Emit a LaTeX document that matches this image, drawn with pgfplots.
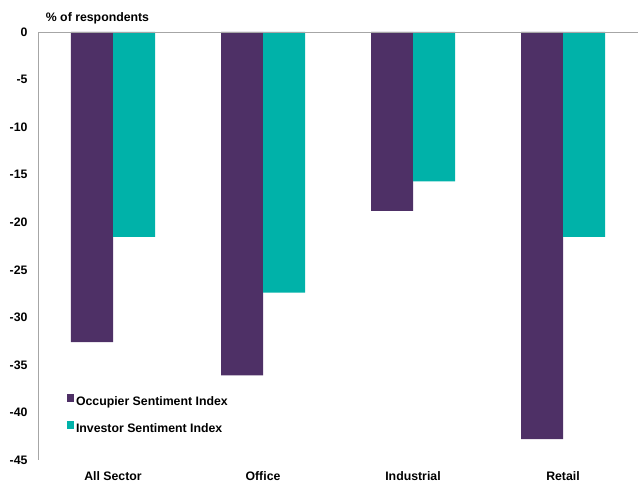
\documentclass[border=0pt]{standalone}
\usepackage{fontspec}
\setmainfont{Liberation Sans}
\usepackage{pgfplots}
\pgfplotsset{compat=1.18}
\definecolor{occ}{RGB}{78,48,102}
\definecolor{inv}{RGB}{0,178,169}
\begin{document}
\begin{tikzpicture}[font=\fontsize{12.3}{14.8}\selectfont\bfseries]
\path[use as bounding box] (-38pt,-24pt) rectangle (600pt,460pt);
\begin{axis}[
  scale only axis, width=600pt, height=428pt,
  xmin=-0.5, xmax=3.5, ymin=-45, ymax=0,
  clip=false,
  ytick={-45,-40,...,0},
  xtick={0,1,2,3}, xticklabels={All Sector, Office, Industrial, Retail},
  major tick length=0pt,
  axis line style={draw=none},
  /pgf/number format/assume math mode=true,
  ticklabel style={font=\fontsize{12.3}{14.8}\selectfont\bfseries},
  yticklabel style={anchor=east, xshift=-7pt},
  xticklabel style={anchor=north, yshift=-8.5pt},
  legend style={at={(rel axis cs:0.048,0.155)}, anchor=north west, draw=none, fill=none,
     font=\fontsize{12.3}{14.8}\selectfont\bfseries, row sep=12pt, inner sep=0pt},
  legend cell align=left,
  legend image code/.code={\fill[#1] (0pt,0pt) rectangle (7pt,8pt);},
]
\addplot[ybar, bar width=0.28, bar shift=-0.14, fill=occ, draw=none]
  coordinates {(0,-32.6) (1,-36.1) (2,-18.8) (3,-42.8)};
\addplot[ybar, bar width=0.28, bar shift=0.14, fill=inv, draw=none]
  coordinates {(0,-21.55) (1,-27.4) (2,-15.7) (3,-21.55)};
\legend{Occupier Sentiment Index, Investor Sentiment Index}
\draw[gray!70, line width=0.8pt] (rel axis cs:0,0) -- (rel axis cs:0,1) -- (rel axis cs:1,1);
\node[anchor=base west, xshift=7.7pt, yshift=10pt, inner sep=0pt] at (rel axis cs:0,1) {\% of respondents};
\end{axis}
\end{tikzpicture}
\end{document}
